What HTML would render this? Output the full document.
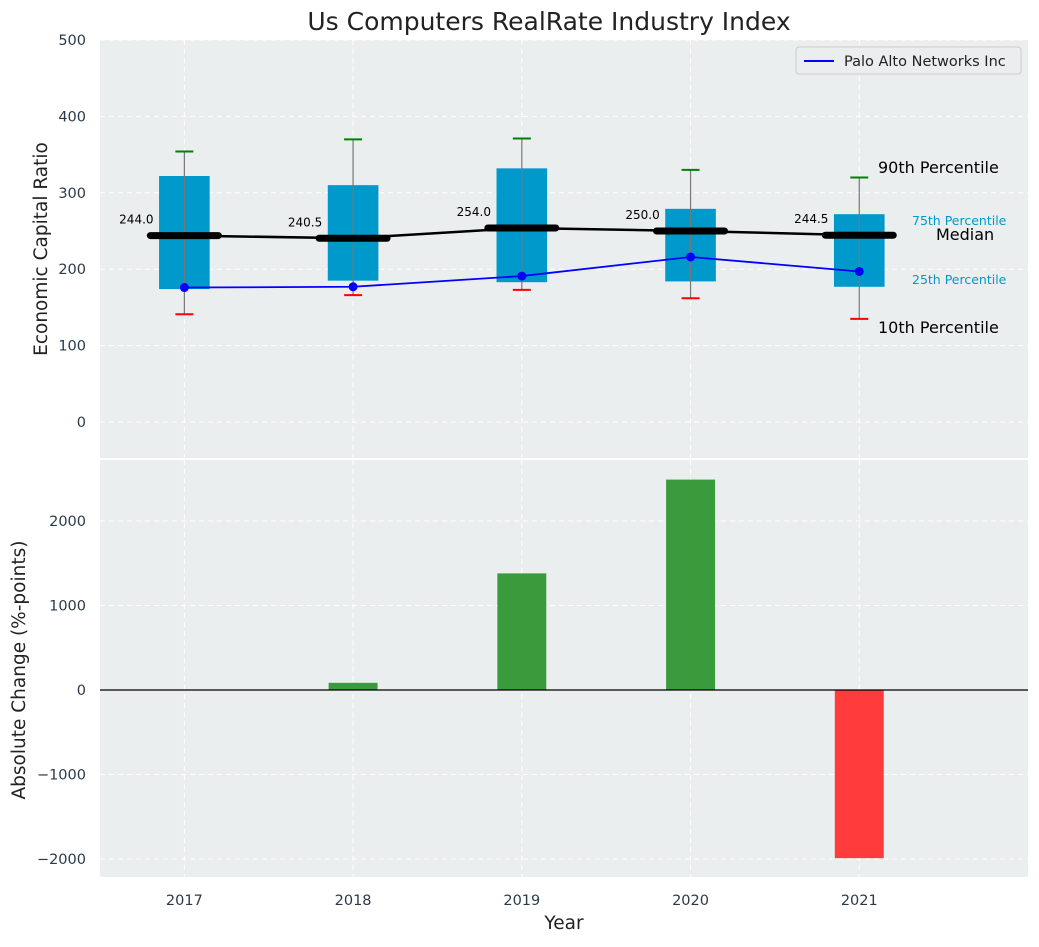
<!DOCTYPE html>
<html><head><meta charset="utf-8"><style>
body{margin:0;background:#fff;font-family:"Liberation Sans","DejaVu Sans",sans-serif}
svg text{font-family:"DejaVu Sans","Liberation Sans",sans-serif}
</style></head><body>
<svg id="c" width="1039" height="942" xmlns="http://www.w3.org/2000/svg"></svg>
<script>
const years=[2017,2018,2019,2020,2021];
const p10=[141,166,173,162,135];
const p25=[174,185,183,184,177];
const med=[244.0,240.5,254.0,250.0,244.5];
const p75=[322,310,332,279,272];
const p90=[354,370,371,330,320];
const palo=[176,177,191,216,197];
const changes=[0,85,1380,2490,-1990];
const topTicks=[0,100,200,300,400,500];
const botTicks=[-2000,-1000,0,1000,2000];

const NS="http://www.w3.org/2000/svg";
const svg=document.getElementById('c');
function el(t,a,parent){const e=document.createElementNS(NS,t);for(const k in a)e.setAttribute(k,a[k]);(parent||svg).appendChild(e);return e;}
const L=100,R=1028;
const x=v=>L+(v-2016.5)/(2022-2016.5)*(R-L);
const yT=v=>422-v*0.764;
const yB=v=>690-v*0.0845;

let e=el('rect',{x:L,y:40,width:R-L,height:418,fill:'#eaeeef'});

e=el('rect',{x:L,y:460,width:R-L,height:417,fill:'#eaeeef'});


topTicks.forEach(t=>{el('line',{x1:L,x2:R,y1:yT(t),y2:yT(t),stroke:'#fff','stroke-dasharray':'5,4','stroke-width':1});
 e=el('text',{x:86,y:yT(t)+5,'text-anchor':'end','font-size':14.5,fill:'#2b3a4a'});e.textContent=t;
 });
botTicks.forEach(t=>{el('line',{x1:L,x2:R,y1:yB(t),y2:yB(t),stroke:'#fff','stroke-dasharray':'5,4','stroke-width':1});
 e=el('text',{x:86,y:yB(t)+5,'text-anchor':'end','font-size':14.5,fill:'#2b3a4a'});e.textContent=String(t).replace('-','\u2212');
 });
years.forEach(yr=>{el('line',{x1:x(yr),x2:x(yr),y1:40,y2:458,stroke:'#fff','stroke-dasharray':'5,4'});
 el('line',{x1:x(yr),x2:x(yr),y1:460,y2:877,stroke:'#fff','stroke-dasharray':'5,4'});
 e=el('text',{x:x(yr),y:905,'text-anchor':'middle','font-size':14.5,fill:'#2b3a4a'});e.textContent=yr;
 });

const bw=0.3*(R-L)/5.5;
years.forEach((yr,i)=>{
 const cx=x(yr);
 e=el('rect',{x:cx-bw/2,y:yT(p75[i]),width:bw,height:yT(p25[i])-yT(p75[i]),fill:'#0099cc'});
 
 el('line',{x1:cx,x2:cx,y1:yT(p90[i]),y2:yT(p10[i]),stroke:'#777','stroke-width':1.2});
 e=el('line',{x1:cx-9,x2:cx+9,y1:yT(p90[i]),y2:yT(p90[i]),stroke:'green','stroke-width':2});
 
 e=el('line',{x1:cx-9,x2:cx+9,y1:yT(p10[i]),y2:yT(p10[i]),stroke:'red','stroke-width':2});
 
});
e=el('polyline',{points:years.map((yr,i)=>x(yr)+','+yT(med[i])).join(' '),fill:'none',stroke:'#000','stroke-width':2.5});

years.forEach((yr,i)=>{
 e=el('line',{x1:x(yr)-34,x2:x(yr)+34,y1:yT(med[i]),y2:yT(med[i]),stroke:'#000','stroke-width':7,'stroke-linecap':'round'});
 
 e=el('text',{x:x(yr)-48,y:yT(med[i])-12,'text-anchor':'middle','font-size':12,fill:'#000'});e.textContent=med[i].toFixed(1);
 
});
e=el('polyline',{points:years.map((yr,i)=>x(yr)+','+yT(palo[i])).join(' '),fill:'none',stroke:'#0000ff','stroke-width':1.8});

years.forEach((yr,i)=>{e=el('circle',{cx:x(yr),cy:yT(palo[i]),r:4.5,fill:'#0000ff'});
 });
const ann=[[878,173,'90th Percentile',16,'#000'],[912,225,'75th Percentile',12.5,'#0099cc'],[936,240,'Median',16,'#000'],[912,284,'25th Percentile',12.5,'#0099cc'],[878,333,'10th Percentile',16,'#000']];
ann.forEach(a=>{e=el('text',{x:a[0],y:a[1],'font-size':a[3],fill:a[4]});e.textContent=a[2];
 });
e=el('rect',{x:796,y:47,width:225,height:27,rx:3,fill:'#eaeeef',stroke:'#ccc'});

el('line',{x1:804,x2:834,y1:61,y2:61,stroke:'#0000ff','stroke-width':2});
e=el('text',{x:844,y:66,'font-size':14.5,fill:'#222'});e.textContent='Palo Alto Networks Inc';


const barW=0.29*(R-L)/5.5;
years.forEach((yr,i)=>{const v=changes[i];
 e=el('rect',{x:x(yr)-barW/2,y:Math.min(yB(v),yB(0)),width:barW,height:Math.abs(yB(v)-yB(0)),fill:v>=0?'#3a9b3d':'#ff3b3b'});
 });
el('line',{x1:L,x2:R,y1:yB(0),y2:yB(0),stroke:'#000','stroke-width':1.2});

e=el('text',{x:549,y:30,'text-anchor':'middle','font-size':25,fill:'#222'});e.textContent='Us Computers RealRate Industry Index';

e=el('text',{x:0,y:0,'text-anchor':'middle','font-size':18.5,fill:'#222',transform:'translate(47,249) rotate(-90)'});e.textContent='Economic Capital Ratio';

e=el('text',{x:0,y:0,'text-anchor':'middle','font-size':18.5,fill:'#222',transform:'translate(25,670) rotate(-90)'});e.textContent='Absolute Change (%-points)';

e=el('text',{x:564,y:929,'text-anchor':'middle','font-size':18.5,fill:'#222'});e.textContent='Year';

</script>
</body></html>
